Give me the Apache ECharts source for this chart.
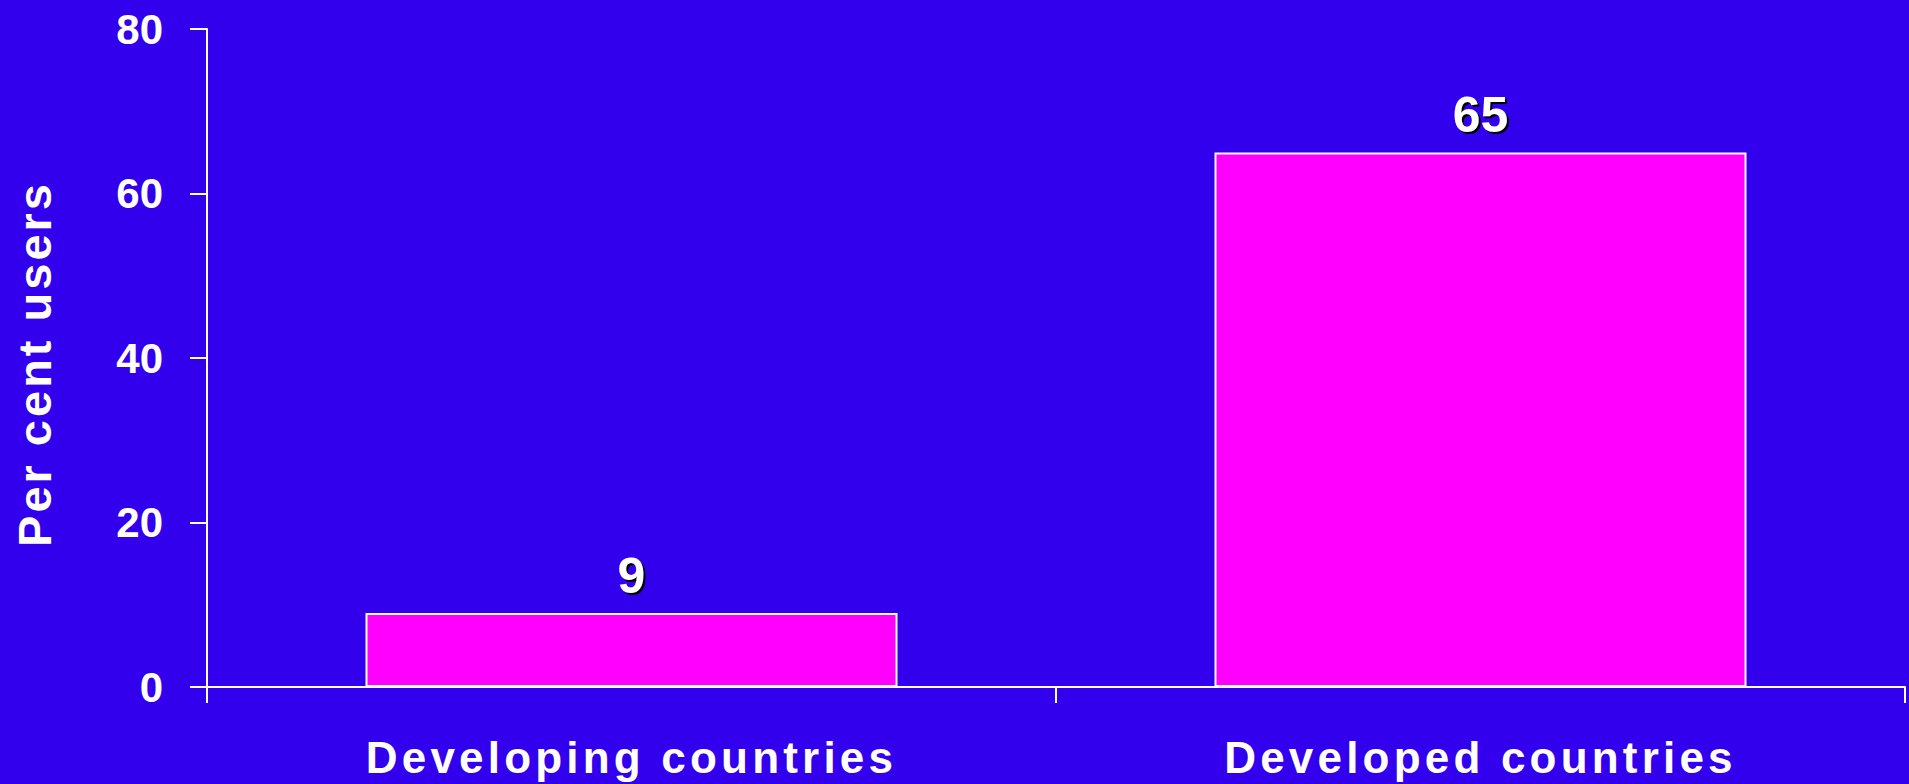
<!DOCTYPE html>
<html>
<head>
<meta charset="utf-8">
<script src="https://cdn.jsdelivr.net/npm/echarts@6/dist/echarts.min.js"></script>
<style>
html,body{margin:0;padding:0;background:#3300EE;}
#chart{width:1909px;height:784px;}
/* letter-spaced category labels and axis name */
text[style*="44px"]{letter-spacing:4.2px;}
text[style*="47px"]{letter-spacing:3px;}
/* shadowed value labels */
text[style*="50px"]{text-shadow:2px 2px 0 #000;}
</style>
</head>
<body>
<div id="chart"></div>
<script>
const categories = ['Developing countries', 'Developed countries'];
const values = [9, 65];
const yTicks = [0, 20, 40, 60, 80];
const yAxisName = 'Per cent users';

const FONT = '"Liberation Sans", Arial, Helvetica, sans-serif';
const chart = echarts.init(document.getElementById('chart'), null, {renderer: 'svg'});
chart.setOption({
  backgroundColor: '#3300EE',
  animation: false,
  grid: {left: 207, right: 4, top: 29, bottom: 97, containLabel: false},
  xAxis: {
    type: 'category',
    data: categories,
    boundaryGap: true,
    axisLine: {lineStyle: {color: '#ffffff', width: 2}},
    axisTick: {show: true, length: 16, alignWithLabel: false, lineStyle: {color: '#ffffff', width: 2}},
    axisLabel: {color: '#ffffff', fontFamily: FONT, fontWeight: 'bold', fontSize: 44, margin: 48, lineHeight: 44},
    splitLine: {show: false}
  },
  yAxis: {
    type: 'value',
    min: yTicks[0],
    max: yTicks[yTicks.length - 1],
    interval: 20,
    name: yAxisName,
    nameLocation: 'middle',
    nameGap: 149,
    nameRotate: 90,
    nameTextStyle: {color: '#ffffff', fontFamily: FONT, fontWeight: 'bold', fontSize: 47, padding: [0, 12, 0, 0]},
    axisLine: {show: true, lineStyle: {color: '#ffffff', width: 2}},
    axisTick: {show: true, length: 17, lineStyle: {color: '#ffffff', width: 2}},
    axisLabel: {color: '#ffffff', fontFamily: FONT, fontWeight: 'bold', fontSize: 42, margin: 44},
    splitLine: {show: false}
  },
  series: [{
    type: 'bar',
    data: values,
    barWidth: 532,
    itemStyle: {color: '#FF00FF', borderColor: '#ffffff', borderWidth: 2},
    label: {
      show: true,
      position: 'top',
      distance: 12,
      color: '#ffffff',
      fontFamily: FONT,
      fontWeight: 'bold',
      fontSize: 50
    }
  }]
});
</script>
</body>
</html>
